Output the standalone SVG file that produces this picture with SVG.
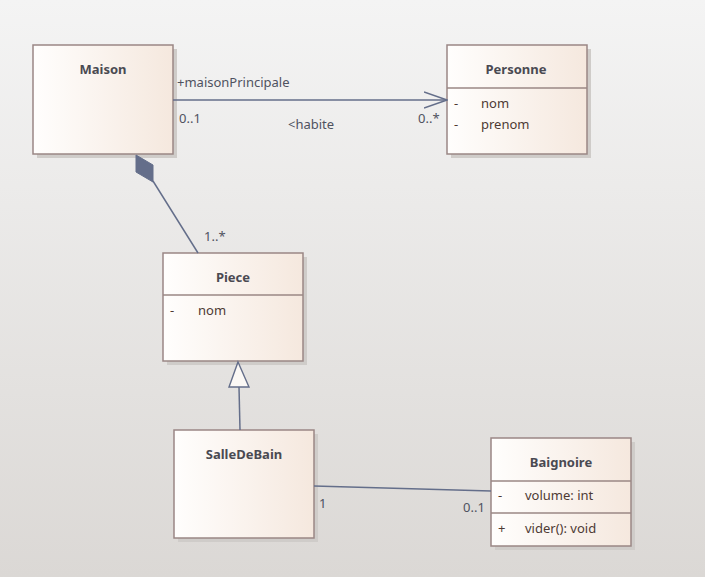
<svg xmlns="http://www.w3.org/2000/svg" width="705" height="577" viewBox="0 0 705 577">
  <defs>
    <linearGradient id="bg" x1="0" y1="0" x2="0" y2="1">
      <stop offset="0" stop-color="#f4f4f4"/>
      <stop offset="1" stop-color="#dbd8d5"/>
    </linearGradient>
    <linearGradient id="cls" x1="0" y1="0" x2="1" y2="0">
      <stop offset="0" stop-color="#fffefd"/>
      <stop offset="1" stop-color="#f5e8de"/>
    </linearGradient>
    <marker id="open" viewBox="0 0 24 18" refX="23" refY="9" markerWidth="24" markerHeight="18" markerUnits="userSpaceOnUse" orient="auto">
      <path d="M0,1 L23,9 L0,17" fill="none" stroke="#646e8a" stroke-width="1.4"/>
    </marker>
  </defs>
  <style>
    .box { fill: url(#cls); stroke: #9a8785; stroke-width: 1.5; }
    .shadow { fill: #cfccc9; }
    .sep { stroke: #9a8785; stroke-width: 1.5; }
    .title { font-family: "Noto Sans", "Open Sans", sans-serif; font-size: 13px; font-weight: bold; fill: #4a4a52; text-anchor: middle; }
    .attr { font-family: "Noto Sans", "Open Sans", sans-serif; font-size: 13px; fill: #4e3a34; }
    .vis { font-family: "Noto Sans", "Open Sans", sans-serif; font-size: 13px; fill: #4e3a34; }
    .lbl { font-family: "Noto Sans", "Open Sans", sans-serif; font-size: 13px; fill: #4f5260; }
    .edge { stroke: #646e8a; stroke-width: 1.5; fill: none; }
  </style>

  <rect x="0" y="0" width="705" height="577" fill="url(#bg)"/>

  <!-- Maison -->
  <g id="Maison">
    <rect class="shadow" x="37" y="49" width="140" height="109"/>
    <rect class="box" x="33" y="45" width="140" height="109"/>
    <text class="title" x="103" y="74">Maison</text>
  </g>

  <!-- Personne -->
  <g id="Personne">
    <rect class="shadow" x="451" y="49" width="140" height="109"/>
    <rect class="box" x="447" y="45" width="140" height="109"/>
    <line class="sep" x1="447" y1="88" x2="587" y2="88"/>
    <text class="title" x="516" y="74">Personne</text>
    <text class="vis" x="454" y="108">-</text>
    <text class="attr" x="481" y="108">nom</text>
    <text class="vis" x="454" y="129">-</text>
    <text class="attr" x="481" y="129">prenom</text>
  </g>

  <!-- Piece -->
  <g id="Piece">
    <rect class="shadow" x="167" y="257" width="140" height="108"/>
    <rect class="box" x="163" y="253" width="140" height="108"/>
    <line class="sep" x1="163" y1="295" x2="303" y2="295"/>
    <text class="title" x="233" y="282">Piece</text>
    <text class="vis" x="170" y="315">-</text>
    <text class="attr" x="198" y="315">nom</text>
  </g>

  <!-- SalleDeBain -->
  <g id="SalleDeBain">
    <rect class="shadow" x="178" y="434" width="140" height="108"/>
    <rect class="box" x="174" y="430" width="140" height="108"/>
    <text class="title" x="244" y="459">SalleDeBain</text>
  </g>

  <!-- Baignoire -->
  <g id="Baignoire">
    <rect class="shadow" x="495" y="442" width="140" height="108"/>
    <rect class="box" x="491" y="438" width="140" height="108"/>
    <line class="sep" x1="491" y1="481" x2="631" y2="481"/>
    <line class="sep" x1="491" y1="513" x2="631" y2="513"/>
    <text class="title" x="561" y="467">Baignoire</text>
    <text class="vis" x="498" y="500">-</text>
    <text class="attr" x="525" y="500">volume: int</text>
    <text class="vis" x="498" y="533">+</text>
    <text class="attr" x="525" y="533">vider(): void</text>
  </g>

  <!-- connectors -->
  <g id="connectors">
    <!-- Maison -> Personne association -->
    <line class="edge" x1="173" y1="100" x2="447" y2="100" marker-end="url(#open)"/>
    <text class="lbl" x="177" y="87">+maisonPrincipale</text>
    <text class="lbl" x="179" y="123">0..1</text>
    <text class="lbl" x="288" y="129">&lt;habite</text>
    <text class="lbl" x="418" y="123">0..*</text>

    <!-- Maison composition of Piece -->
    <line class="edge" x1="198" y1="253" x2="153" y2="181"/>
    <polygon points="136,155 153,165 153,182 136,172" fill="#646e8a" stroke="#646e8a" stroke-width="1"/>
    <text class="lbl" x="204" y="241">1..*</text>

    <!-- SalleDeBain generalization to Piece -->
    <line class="edge" x1="240" y1="430" x2="239" y2="387"/>
    <polygon points="238,362 249,387 229,387" fill="#fbf8f5" stroke="#646e8a" stroke-width="1.4"/>

    <!-- SalleDeBain - Baignoire association -->
    <line class="edge" x1="314" y1="486" x2="491" y2="491"/>
    <text class="lbl" x="319" y="508">1</text>
    <text class="lbl" x="463" y="512">0..1</text>
  </g>
</svg>
